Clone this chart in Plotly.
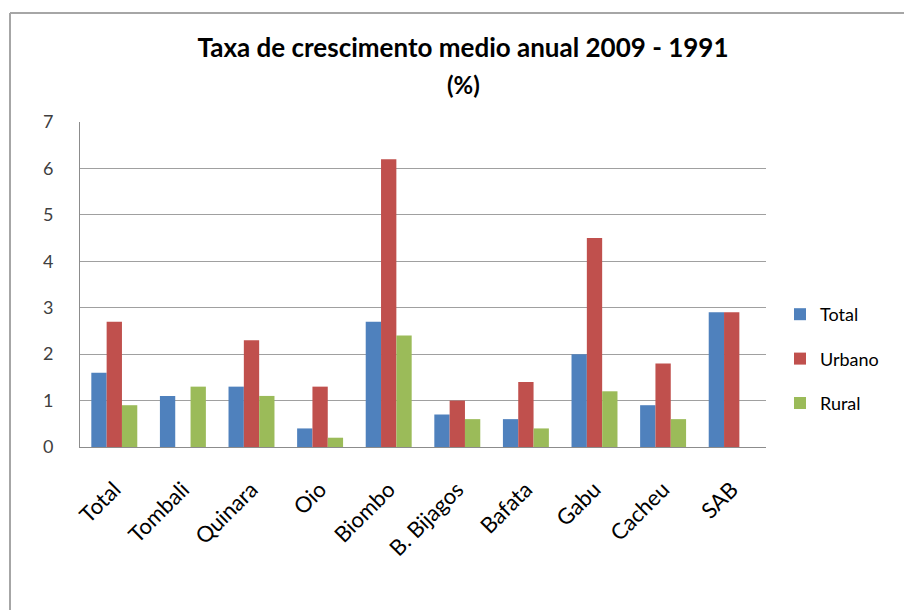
import plotly.graph_objects as go

categories = ["Total", "Tombali", "Quinara", "Oio", "Biombo", "B. Bijagos",
              "Bafata", "Gabu", "Cacheu", "SAB"]
total = [1.6, 1.1, 1.3, 0.4, 2.7, 0.7, 0.6, 2.0, 0.9, 2.9]
urbano = [2.7, None, 2.3, 1.3, 6.2, 1.0, 1.4, 4.5, 1.8, 2.9]
rural = [0.9, 1.3, 1.1, 0.2, 2.4, 0.6, 0.4, 1.2, 0.6, None]
y_ticks = [0, 1, 2, 3, 4, 5, 6, 7]

series = [("Total", total, "#4F81BD"), ("Urbano", urbano, "#C0504D"),
          ("Rural", rural, "#9BBB59")]

FONT = "Lato"
W, H = 912, 610
OFF = 8  # page body margin
L, R, T, B = 80 - OFF, 766 - OFF, 122 - OFF, 447 - OFF

fig = go.Figure()
for name, vals, color in series:
    fig.add_trace(go.Bar(x=categories, y=vals, name=name, marker_color=color,
                         marker_line_width=0, legendgroup=name))

pw, ph = R - L, B - T
def px(x):
    return (x - OFF - L) / pw
def py(y):
    return (B - (y - OFF)) / ph

fig.update_layout(
    width=W, height=H,
    margin=dict(l=L, r=W - R, t=T, b=H - B, pad=0),
    paper_bgcolor="white", plot_bgcolor="white",
    font=dict(family=FONT, color="#404040"),
    barmode="group", bargap=0.33, bargroupgap=0,
    title=dict(text="<b>Taxa de crescimento medio anual 2009 - 1991</b>",
               x=px(463), xref="paper", xanchor="center",
               y=1 - (48 - OFF) / H, yref="container", yanchor="middle",
               font=dict(family=FONT, size=26, color="#000000")),
    legend=dict(x=px(780), y=py(359), xanchor="left", yanchor="middle",
                font=dict(family=FONT, size=18, color="#000000"),
                tracegroupgap=18, itemwidth=30),
    xaxis=dict(tickangle=-45, tickfont=dict(family=FONT, size=22, color="#000000"),
               showline=True, linecolor="#8c8c8c", linewidth=1, ticks="",
               ticklabelstandoff=20),
    yaxis=dict(range=[0, 7], tickvals=y_ticks, showgrid=True, gridcolor="#a0a0a0",
               gridwidth=1, showline=True, linecolor="#8c8c8c", linewidth=1,
               tickfont=dict(family=FONT, size=18, color="#404040"), ticks="",
               ticklen=0, zeroline=False, ticklabelstandoff=22),
    annotations=[dict(text="<b>(%)</b>", x=px(463), y=py(85), xref="paper", yref="paper",
                      showarrow=False, xanchor="center", yanchor="middle",
                      font=dict(family=FONT, size=24, color="#000000"))],
    shapes=[
        dict(type="line", xref="paper", yref="paper",
             x0=px(10), x1=px(930), y0=py(13), y1=py(13),
             line=dict(color="#a6a6a6", width=2), layer="below"),
        dict(type="line", xref="paper", yref="paper",
             x0=px(10), x1=px(10), y0=py(13), y1=py(640),
             line=dict(color="#a6a6a6", width=2), layer="below"),
    ],
)

fig.write_html("out.html")
